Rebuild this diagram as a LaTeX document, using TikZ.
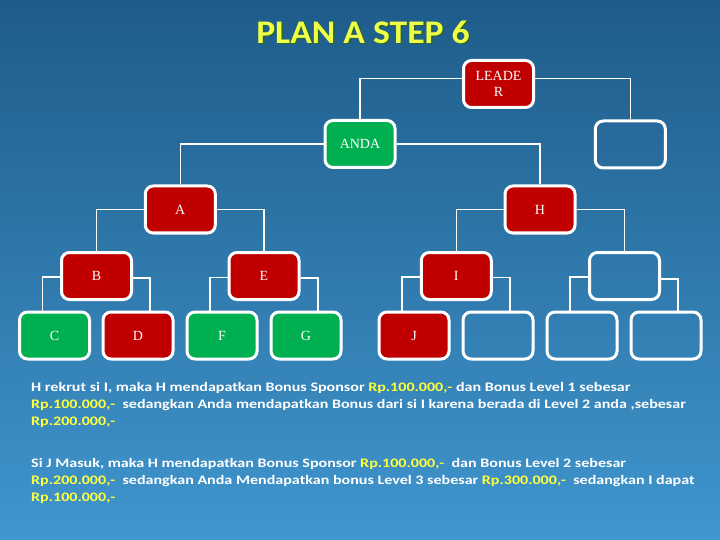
\documentclass[tikz,border=0pt]{standalone}
\usepackage{fontspec}
\setmainfont{Liberation Serif}
\newfontfamily\calib[FakeStretch=1.235]{Carlito}
\newfontfamily\calibt[FakeStretch=1.08]{Carlito}
\usetikzlibrary{calc}
\definecolor{boxred}{RGB}{192,0,0}
\definecolor{boxgreen}{RGB}{0,176,80}
\definecolor{bgtop}{RGB}{30,92,138}
\definecolor{bgbot}{RGB}{64,150,206}
\definecolor{amt}{RGB}{255,255,60}
\definecolor{ttl}{RGB}{238,255,70}
\definecolor{ttlsh}{RGB}{45,100,40}
\newcommand\amount[1]{\textcolor{amt}{#1}}
\tikzset{
  box/.style={draw=white, line width=3pt, rounded corners=8pt, minimum width=70pt, minimum height=47pt, inner sep=0pt, text=white, font=\fontsize{14}{16}\selectfont, align=center},
  redbox/.style={box, fill=boxred},
  greenbox/.style={box, fill=boxgreen},
  emptybox/.style={box},
  link/.style={draw=white, line width=1.2pt},
  txt/.style={anchor=base west, inner sep=0pt, text=white, font=\calib\bfseries\fontsize{13}{16}\selectfont},
  titletxt/.style={inner sep=0pt, font=\calibt\bfseries\fontsize{33}{36}\selectfont}
}
\begin{document}
\begin{tikzpicture}[x=1pt,y=-1pt]
\useasboundingbox (0,0) rectangle (720,540);
\shade[top color=bgtop,bottom color=bgbot] (0,0) rectangle (720,540);
% title
\node[titletxt, text=ttlsh] (titlesh) at (364.5,33.5) {PLAN A STEP 6};
\node[titletxt, text=ttl] (title) at (363,32) {PLAN A STEP 6};
% boxes
\node[redbox] (leader) at (498.5,84) {LEADE\\R};
\node[emptybox] (r1) at (630.3,144.5) {};
\node[greenbox] (anda) at (360,144) {ANDA};
\node[redbox] (a) at (180.3,209.5) {A};
\node[redbox] (h) at (540,209.5) {H};
\node[redbox] (b) at (96.5,276) {B};
\node[redbox] (e) at (264,276) {E};
\node[redbox] (i) at (456.3,276) {I};
\node[emptybox] (r2) at (624.5,276) {};
\node[greenbox] (c) at (54.5,335.5) {C};
\node[redbox] (d) at (138,335.5) {D};
\node[greenbox] (f) at (222,335.5) {F};
\node[greenbox] (g) at (306,335.5) {G};
\node[redbox] (j) at (414,335.5) {J};
\node[emptybox] (e1) at (498,335.5) {};
\node[emptybox] (e2) at (582,335.5) {};
\node[emptybox] (e3) at (666,335.5) {};
% connectors
\draw[link] ([yshift=5.5pt]leader.west) -| (anda.north);
\draw[link] ([yshift=5.5pt]leader.east) -| (r1.north);
\draw[link] (anda.west) -| (a.north);
\draw[link] (anda.east) -| (h.north);
\draw[link] (a.west) -| (b.north);
\draw[link] (a.east) -| (e.north);
\draw[link] (h.west) -| (i.north);
\draw[link] (h.east) -| (r2.north);
\draw[link] ([yshift=-1pt]b.west) -| ([xshift=-12pt]c.north);
\draw[link] ([yshift=-2pt]b.east) -| ([xshift=12pt]d.north);
\draw[link] ([yshift=-1.5pt]e.west) -| ([xshift=-12pt]f.north);
\draw[link] ([yshift=-2pt]e.east) -| ([xshift=12pt]g.north);
\draw[link] ([yshift=-1pt]i.west) -| ([xshift=-12pt]j.north);
\draw[link] ([yshift=-1.5pt]i.east) -| ([xshift=12pt]e1.north);
\draw[link] ([yshift=-1pt]r2.west) -| ([xshift=-12pt]e2.north);
\draw[link] ([yshift=-3pt]r2.east) -| ([xshift=12pt]e3.north);
% text
\node[txt] (p1a) at (31,391) {H rekrut si I, maka H mendapatkan Bonus Sponsor \amount{Rp.100.000,-} dan Bonus Level 1 sebesar};
\node[txt] (p1b) at (31,408) {\amount{Rp.100.000,-}\ \ sedangkan Anda mendapatkan Bonus dari si I karena berada di Level 2 anda ,sebesar};
\node[txt] (p1c) at (31,425) {\amount{Rp.200.000,-}};
\node[txt] (p2a) at (31,467) {Si J Masuk, maka H mendapatkan Bonus Sponsor \amount{Rp.100.000,-}\ \ dan Bonus Level 2 sebesar};
\node[txt] (p2b) at (31,484) {\amount{Rp.200.000,-}\ \ sedangkan Anda Mendapatkan bonus Level 3 sebesar \amount{Rp.300.000,-}\ \ sedangkan I dapat};
\node[txt] (p2c) at (31,501) {\amount{Rp.100.000,-}};
\end{tikzpicture}
\end{document}
